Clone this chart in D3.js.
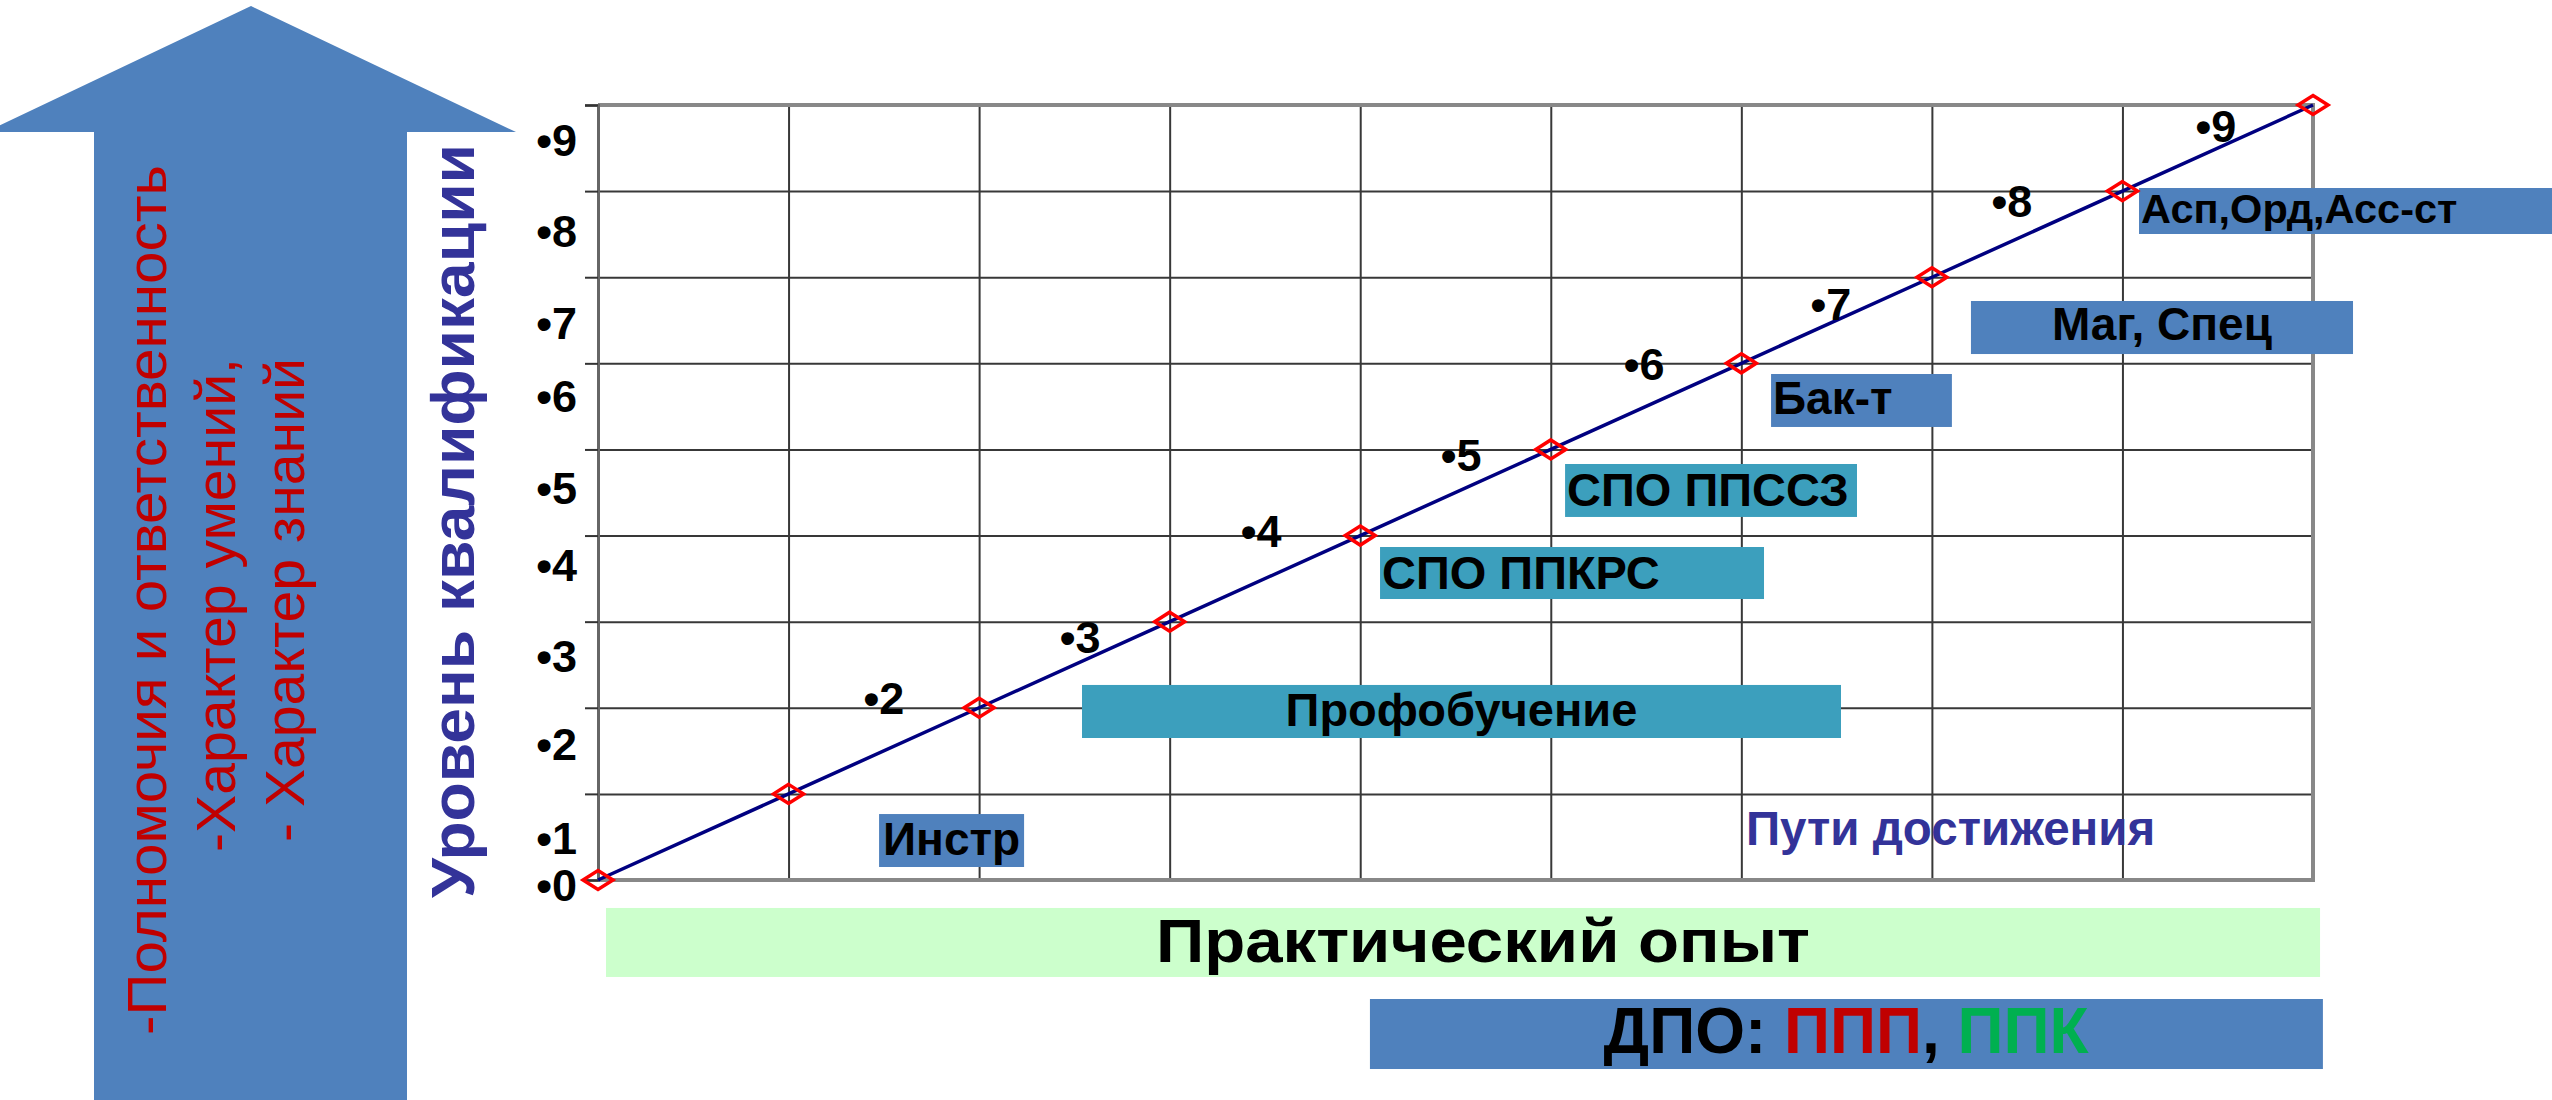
<!DOCTYPE html>
<html><head><meta charset="utf-8">
<script src="https://cdn.jsdelivr.net/npm/d3@7/dist/d3.min.js"></script>
<style>html,body{margin:0;padding:0;background:#fff;}svg{display:block;}</style>
</head><body>
<svg id="chart" width="2552" height="1100"></svg>
<script>
// ---------- data ----------
const experience = [0,1,2,3,4,5,6,7,8,9];          // x values (Практический опыт)
const qualification = [0,1,2,3,4,5,6,7,8,9];       // y values (Уровень квалификации)
const tickLabels = ["•0","•1","•2","•3","•4","•5","•6","•7","•8","•9"];
const tickLabelLevel = [-0.06,0.49,1.58,2.60,3.66,4.55,5.62,6.47,7.54,8.59];
const pointLabels = ["•2","•3","•4","•5","•6","•7","•8","•9"];
const pointLabelX = [1.50,2.53,3.48,4.53,5.49,6.47,7.42,8.49];
const pointLabelY = [2.11,2.82,4.05,4.94,5.99,6.69,7.89,8.76];
const pathNames = ["Инстр","Профобучение","СПО ППКРС","СПО ППССЗ","Бак-т","Маг, Спец","Асп,Орд,Асс-ст"];
const leftLines = ["-Полномочия и ответственность","-Характер умений,","- Характер знаний"];

// ---------- layout ----------
const W = 2552, H = 1100;
const svg = d3.select("#chart").attr("width", W).attr("height", H);
const FONT = "'Liberation Sans', Arial, Helvetica, sans-serif";
const x = d3.scaleLinear().domain([0, 9]).range([598, 2313]);
const y = d3.scaleLinear().domain([0, 9]).range([880, 105]);
const BLUE = "#4F81BD", TEAL = "#3C9FBD";

// big arrow
svg.append("path")
  .attr("d", "M94,1100 L94,132 L-14,132 L251,6 L516,132 L407,132 L407,1100 Z")
  .attr("fill", BLUE);

// red rotated lines
const leftLayout = [{bx:166, cy:600, len:870},{bx:235, cy:605, len:494},{bx:304, cy:600, len:484}];
leftLines.forEach((t, i) => {
  const L = leftLayout[i];
  svg.append("text")
    .attr("transform", `translate(${L.bx},${L.cy}) rotate(-90)`)
    .attr("text-anchor", "middle")
    .attr("font-family", FONT).attr("font-size", 56)
    .attr("fill", "#C00000")
    .attr("textLength", L.len).attr("lengthAdjust", "spacingAndGlyphs")
    .text(t);
});

// y axis title
svg.append("text")
  .attr("transform", `translate(474,521) rotate(-90)`)
  .attr("text-anchor", "middle")
  .attr("font-family", FONT).attr("font-size", 62).attr("font-weight", "bold")
  .attr("fill", "#333399")
  .attr("textLength", 754).attr("lengthAdjust", "spacingAndGlyphs")
  .text("Уровень квалификации");

// grid
const gx = svg.append("g").attr("transform", `translate(0,${y(0)})`)
  .call(d3.axisBottom(x).tickValues(d3.range(1, 9)).tickSize(-(y(0) - y(9))).tickFormat(""));
gx.select(".domain").remove();
gx.selectAll("line").attr("stroke", "#383838").attr("stroke-width", 2);

const gy = svg.append("g").attr("transform", `translate(${x(0)},0)`)
  .call(d3.axisRight(y).tickValues(d3.range(1, 9)).tickSize(x(9) - x(0)).tickFormat(""));
gy.select(".domain").remove();
gy.selectAll("line").attr("stroke", "#383838").attr("stroke-width", 2);

// border: top, right, bottom
svg.append("path")
  .attr("d", `M${x(0)},${y(9)} L${x(9)},${y(9)} L${x(9)},${y(0)} L${x(0)},${y(0)}`)
  .attr("fill", "none").attr("stroke", "#888").attr("stroke-width", 4);

// left axis with ticks
const ay = svg.append("g").attr("transform", `translate(${x(0)},0)`)
  .call(d3.axisLeft(y).tickValues(d3.range(0, 10)).tickSize(13).tickFormat(""));
ay.select(".domain").attr("stroke", "#666").attr("stroke-width", 3);
ay.selectAll("line").attr("stroke", "#333").attr("stroke-width", 2);

// y tick labels (bulleted list)
svg.append("g").selectAll("text").data(tickLabels).join("text")
  .attr("x", 577)
  .attr("y", (d, i) => y(tickLabelLevel[i]) + 16)
  .attr("text-anchor", "end")
  .attr("font-family", FONT).attr("font-size", 45).attr("font-weight", "bold")
  .attr("fill", "#000")
  .text(d => d);

// bottom boxes
function box(x0, x1, y0, y1, fill) {
  svg.append("rect")
    .attr("x", x(x0)).attr("y", y(y0))
    .attr("width", x(x1) - x(x0)).attr("height", y(y1) - y(y0))
    .attr("fill", fill);
}
box(0.042, 9.037, -0.325, -1.126, "#CCFFCC");
svg.append("text")
  .attr("x", x(4.644)).attr("y", y(-0.952))
  .attr("text-anchor", "middle")
  .attr("font-family", FONT).attr("font-size", 62).attr("font-weight", "bold")
  .attr("fill", "#000")
  .attr("textLength", 654).attr("lengthAdjust", "spacingAndGlyphs")
  .text("Практический опыт");

box(4.051, 9.052, -1.382, -2.195, BLUE);
const dpo = svg.append("text")
  .attr("x", x(6.55)).attr("y", y(-2.009))
  .attr("text-anchor", "middle")
  .attr("font-family", FONT).attr("font-size", 64).attr("font-weight", "bold");
[["ДПО: ", "#000"], ["ППП", "#C00000"], [", ", "#000"], ["ППК", "#00B050"]]
  .forEach(([t, c]) => dpo.append("tspan").attr("fill", c).text(t));

// path boxes (in data units)
const boxLayout = [
  {x0:1.475, x1:2.236, y0:0.766, y1:0.151, tb:0.29, fill:BLUE, anchor:"middle", fs:46},
  {x0:2.540, x1:6.523, y0:2.265, y1:1.649, tb:1.79, fill:TEAL, anchor:"middle", fs:47},
  {x0:4.104, x1:6.119, y0:3.867, y1:3.263, tb:3.38, fill:TEAL, anchor:"start", fs:47},
  {x0:5.075, x1:6.607, y0:4.831, y1:4.216, tb:4.34, fill:TEAL, anchor:"start", fs:47},
  {x0:6.156, x1:7.105, y0:5.876, y1:5.261, tb:5.41, fill:BLUE, anchor:"start", fs:46},
  {x0:7.205, x1:9.210, y0:6.724, y1:6.108, tb:6.27, fill:BLUE, anchor:"middle", fs:46},
  {x0:8.087, x1:10.26, y0:8.036, y1:7.502, tb:7.63, fill:BLUE, anchor:"start", fs:41.5}
];
pathNames.forEach((name, i) => {
  const b = boxLayout[i];
  box(b.x0, b.x1, b.y0, b.y1, b.fill);
  const tx = b.anchor === "middle" ? (x(b.x0) + x(b.x1)) / 2 : x(b.x0) + 2;
  svg.append("text")
    .attr("x", tx).attr("y", y(b.tb))
    .attr("text-anchor", b.anchor)
    .attr("font-family", FONT).attr("font-size", b.fs).attr("font-weight", "bold")
    .attr("fill", "#000")
    .text(name);
});

// "Пути достижения"
svg.append("text")
  .attr("x", x(6.024)).attr("y", y(0.41))
  .attr("font-family", FONT).attr("font-size", 47.5).attr("font-weight", "bold")
  .attr("fill", "#333399")
  .text("Пути достижения");

// line
const pts = experience.map((v, i) => [v, qualification[i]]);
svg.append("path")
  .datum(pts)
  .attr("d", d3.line().x(d => x(d[0])).y(d => y(d[1])))
  .attr("fill", "none").attr("stroke", "#000080").attr("stroke-width", 3.5);

// diamond markers
svg.append("g").selectAll("path").data(pts).join("path")
  .attr("transform", d => `translate(${x(d[0])},${y(d[1])})`)
  .attr("d", "M0,-9.5 L15,0 L0,9.5 L-15,0 Z")
  .attr("fill", "none").attr("stroke", "#FF0000").attr("stroke-width", 3.5);

// point labels
svg.append("g").selectAll("text").data(pointLabels).join("text")
  .attr("x", (d, i) => x(pointLabelX[i]))
  .attr("y", (d, i) => y(pointLabelY[i]) + 16)
  .attr("text-anchor", "middle")
  .attr("font-family", FONT).attr("font-size", 45).attr("font-weight", "bold")
  .attr("fill", "#000")
  .text(d => d);
</script>
</body></html>
